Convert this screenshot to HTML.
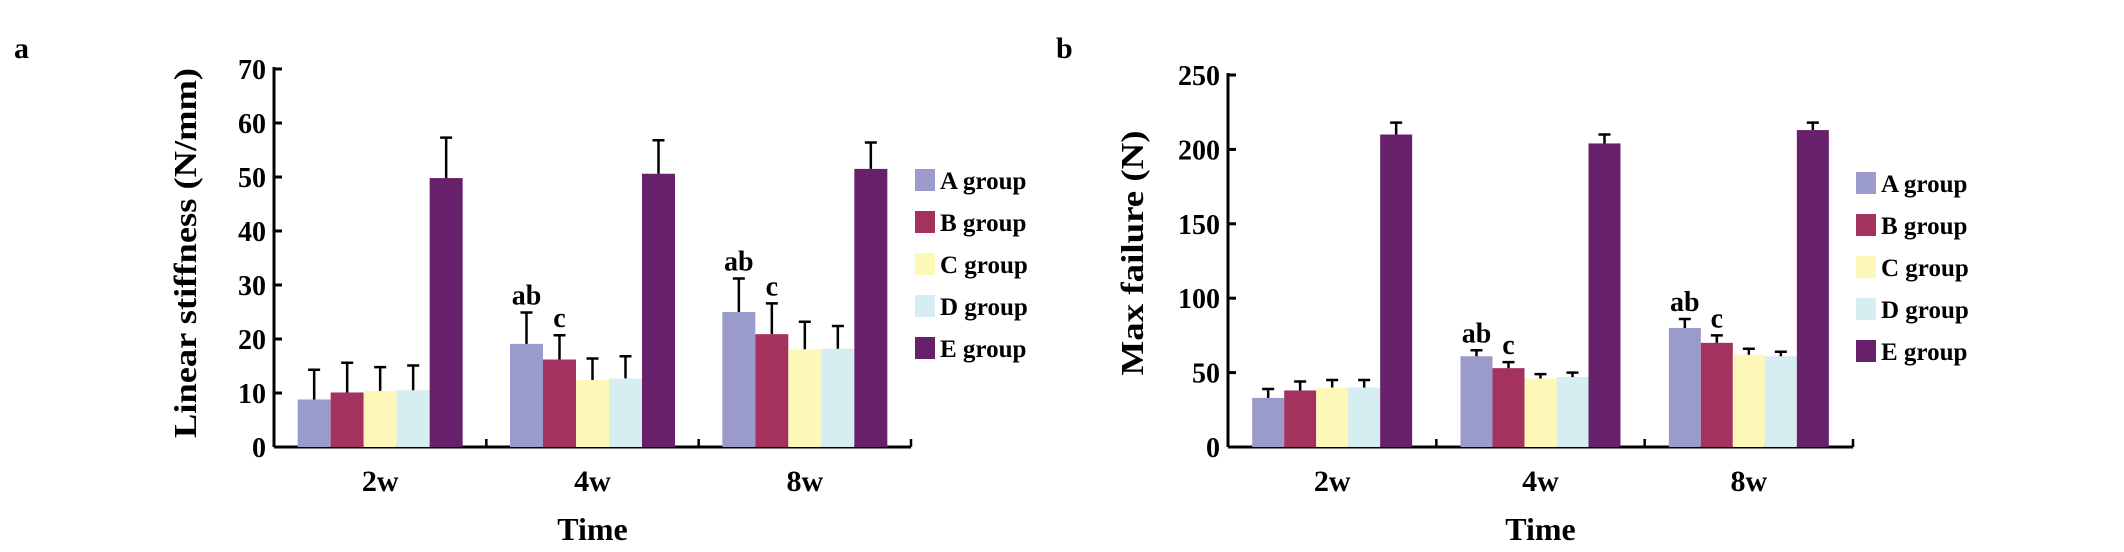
<!DOCTYPE html>
<html><head><meta charset="utf-8"><style>
html,body{margin:0;padding:0;background:#fff;}
svg{display:block;font-family:"Liberation Serif",serif;font-weight:bold;}
</style></head><body>
<svg id="fig" width="2124" height="552" viewBox="0 0 2124 552" xmlns="http://www.w3.org/2000/svg">
<text x="14" y="58" font-size="30">a</text>
<text x="1056" y="58" font-size="30">b</text>
</svg>
<script>
const categories = ["2w","4w","8w"];
const groups = ["A group","B group","C group","D group","E group"];
const colors = ["#9b9bcb","#a3325f","#fdf8b8","#d6eef1","#67216a"];
const stiffA = [8.8,19.1,25.0];
const stiffB = [10.1,16.2,20.9];
const stiffC = [10.4,12.4,18.1];
const stiffD = [10.5,12.7,18.2];
const stiffE = [49.8,50.6,51.5];
const stiffErrA = [5.5,5.8,6.2];
const stiffErrB = [5.5,4.5,5.7];
const stiffErrC = [4.4,4.0,5.1];
const stiffErrD = [4.6,4.1,4.2];
const stiffErrE = [7.5,6.2,4.9];
const stiffTicks = [0,10,20,30,40,50,60,70];
const failA = [33,61,80];
const failB = [38,53,70];
const failC = [40,46,62];
const failD = [40,47,61];
const failE = [210,204,213];
const failErrA = [6,4,6];
const failErrB = [6,4,5];
const failErrC = [5,3,4];
const failErrD = [5,3,3];
const failErrE = [8,6,5];
const failTicks = [0,50,100,150,200,250];
const stiffAnnot = [["",""],["ab","c"],["ab","c"]];
const failAnnot = [["",""],["ab","c"],["ab","c"]];

const NS="http://www.w3.org/2000/svg";
const svg=document.getElementById('fig');
function mk(tag,attrs,parent){const e=document.createElementNS(NS,tag);for(const k in attrs)e.setAttribute(k,attrs[k]);(parent||svg).appendChild(e);return e;}

function chart(cfg){
  const g=mk('g',{});
  
  
  const y=v=>cfg.y0-(v-cfg.min)/(cfg.max-cfg.min)*(cfg.y0-cfg.y1);
  const gw=(cfg.x1-cfg.x0)/categories.length;
  const bw=cfg.bw;
  // axes
  const ax=mk('line',{x1:cfg.x0,y1:cfg.y1-2,x2:cfg.x0,y2:cfg.y0,stroke:'#000','stroke-width':3},g);
  
  
  const bx=mk('line',{x1:cfg.x0,y1:cfg.y0,x2:cfg.x1,y2:cfg.y0,stroke:'#000','stroke-width':3},g);
  
  
  cfg.ticks.forEach(t=>{
    const yy=y(t);
    const tl=mk('line',{x1:cfg.x0,y1:yy,x2:cfg.x0+8,y2:yy,stroke:'#000','stroke-width':3},g);
    
    
    const tx=mk('text',{x:cfg.x0-8,y:yy+10,'font-size':28,'text-anchor':'end'},g);
    
    
    tx.textContent=t;
  });
  for(let i=1;i<=categories.length;i++){
    const xx=cfg.x0+gw*i;
    const t=mk('line',{x1:xx,y1:cfg.y0,x2:xx,y2:cfg.y0-8,stroke:'#000','stroke-width':2.5},g);
    
    
  }
  categories.forEach((c,ci)=>{
    const gx=cfg.x0+gw*ci;
    const start=gx+(gw-bw*5)/2;
    cfg.vals.forEach((arr,si)=>{
      const v=arr[ci], e=cfg.errs[si][ci];
      const bxp=start+si*bw;
      const r=mk('rect',{x:bxp,y:y(v),width:bw,height:cfg.y0-y(v),fill:colors[si]},g);
      
      
      const cx=bxp+bw/2;
      const el=mk('path',{d:`M${cx},${y(v)} V${y(v+e)} M${cx-6},${y(v+e)} H${cx+6}`,stroke:'#000','stroke-width':2.5,fill:'none'},g);
      
      
      if(si<2 && cfg.annot[ci][si]){
        const at=mk('text',{x:cx,y:y(v+e)-8,'font-size':28,'text-anchor':'middle'},g);
        
        
        at.textContent=cfg.annot[ci][si];
      }
    });
    const cl=mk('text',{x:gx+gw/2,y:cfg.y0+44,'font-size':30,'text-anchor':'middle'},g);
    
    
    cl.textContent=c;
  });
  const xt=mk('text',{x:(cfg.x0+cfg.x1)/2,y:540,'font-size':32,'text-anchor':'middle'},g);
  
  
  xt.textContent='Time';
  const yt=mk('text',{x:0,y:0,'font-size':32,'text-anchor':'middle',transform:`translate(${cfg.tx},${cfg.ty}) rotate(-90)`,textLength:cfg.tl,lengthAdjust:'spacingAndGlyphs'},g);
  
  
  yt.textContent=cfg.title;
  groups.forEach((n,i)=>{
    const ly=cfg.ly+i*42;
    const sw=mk('rect',{x:cfg.lx,y:ly-11,width:20,height:22,fill:colors[i]},g);
    
    
    const lt=mk('text',{x:cfg.lx+25,y:ly+9,'font-size':25},g);
    
    
    lt.textContent=n;
  });
}
chart({name:'linear-stiffness-chart',x0:274,x1:911,y0:447,y1:69,min:0,max:70,bw:33,ticks:stiffTicks,
  vals:[stiffA,stiffB,stiffC,stiffD,stiffE],errs:[stiffErrA,stiffErrB,stiffErrC,stiffErrD,stiffErrE],annot:stiffAnnot,
  title:'Linear stiffness (N/mm)',tx:196,ty:253,tl:370,lx:915,ly:180});
chart({name:'max-failure-chart',x0:1228,x1:1853,y0:447,y1:75,min:0,max:250,bw:32,ticks:failTicks,
  vals:[failA,failB,failC,failD,failE],errs:[failErrA,failErrB,failErrC,failErrD,failErrE],annot:failAnnot,
  title:'Max failure (N)',tx:1143,ty:253,tl:245,lx:1856,ly:183});
</script>
</body></html>
